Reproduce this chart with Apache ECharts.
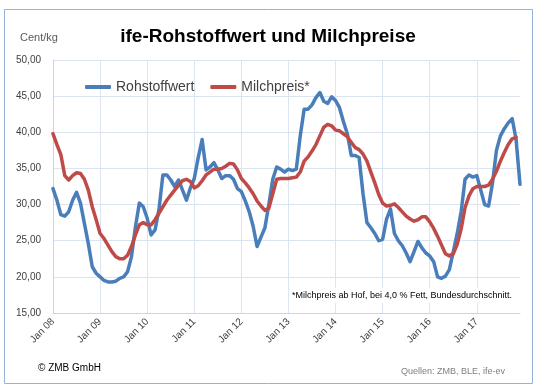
<!DOCTYPE html>
<html><head><meta charset="utf-8">
<script src="https://cdn.jsdelivr.net/npm/echarts@6/dist/echarts.min.js"></script>
<style>html,body{margin:0;padding:0;background:#fff}#c{width:540px;height:390px}</style>
</head><body><div id="c"></div>
<script>
var years = ['08','09','10','11','12','13','14','15','16','17'];
var monthNames = ['Jan','Feb','Mrz','Apr','Mai','Jun','Jul','Aug','Sep','Okt','Nov','Dez'];
var yTicks = [15, 20, 25, 30, 35, 40, 45, 50];
var rohstoffwert = [
32.2,30.6,28.6,28.4,29.0,30.6,31.7,30.2,27.4,24.6,21.4,20.5,
20.0,19.5,19.3,19.3,19.4,19.8,20.0,20.7,22.8,26.9,30.2,29.7,
28.1,25.8,26.5,29.3,34.1,34.1,33.4,32.5,33.4,32.0,30.6,32.3,
33.6,36.5,39.0,34.8,35.2,35.8,34.8,33.6,34.0,34.0,33.5,32.2,
31.8,30.5,29.0,27.0,24.2,25.5,26.8,30.0,33.5,35.2,34.9,34.5,
34.9,34.7,34.9,39.5,43.2,43.2,43.8,44.8,45.5,44.3,44.0,44.9,
44.4,43.4,41.5,39.8,36.8,36.8,36.5,31.5,27.5,26.8,26.0,25.0,
25.2,28.0,29.4,26.0,25.0,24.3,23.3,22.1,23.5,24.9,24.0,23.3,
22.9,22.1,20.0,19.8,20.1,21.0,23.5,26.0,29.0,33.5,34.1,33.8,
34.0,32.0,30.0,29.8,33.0,37.5,39.5,40.5,41.3,41.9,39.0,32.8];
var milchpreis = [
39.8,38.3,36.9,34.0,33.4,34.0,34.4,34.3,33.5,32.0,29.7,27.9,
26.0,25.3,24.4,23.5,22.8,22.5,22.5,23.0,24.2,25.8,27.2,27.5,
27.2,27.2,27.9,28.8,29.7,30.6,31.3,32.0,32.7,33.3,33.5,33.2,
32.3,32.6,33.3,34.1,34.5,34.9,34.9,35.0,35.3,35.7,35.6,34.8,
33.6,33.0,32.3,31.5,30.5,29.8,29.2,29.5,31.5,33.5,33.6,33.6,
33.6,33.7,33.8,34.5,36.0,36.6,37.4,38.3,39.5,40.7,41.1,40.9,
40.3,40.2,39.8,39.4,38.6,37.9,37.6,37.0,36.0,34.5,33.0,31.4,
30.2,29.8,29.9,30.1,29.6,29.0,28.4,28.0,27.7,27.9,28.3,28.3,
27.6,26.7,25.6,24.4,23.2,22.9,23.2,24.5,26.6,29.6,31.2,32.2,
32.5,32.5,32.5,32.7,33.5,34.6,36.0,37.2,38.3,39.1,39.3];

var categories = [];
years.forEach(function (y) { monthNames.forEach(function (m) { categories.push(m + ' ' + y); }); });

var blue = '#4a7ebb', red = '#be4b48';
var chart = echarts.init(document.getElementById('c'), null, {renderer: 'canvas'});
chart.setOption({
  animation: false,
  backgroundColor: '#ffffff',
  grid: {left: 53, right: 20, top: 60, bottom: 77},
  title: {
    text: 'ife-Rohstoffwert und Milchpreise',
    left: 263, top: 22, textAlign: 'center',
    textStyle: {fontFamily: 'Liberation Sans', fontWeight: 'bold', fontSize: 19, color: '#000'}
  },
  legend: {
    left: 80, top: 75, itemGap: 16, itemWidth: 26, itemHeight: 4,
    icon: 'roundRect',
    textStyle: {fontFamily: 'Liberation Sans', fontSize: 14, color: '#404040'},
    data: ['Rohstoffwert', 'Milchpreis*']
  },
  xAxis: {
    type: 'category', data: categories, boundaryGap: false,
    axisLine: {lineStyle: {color: '#c9d6e8'}},
    axisTick: {show: false},
    axisLabel: {interval: 11, rotate: 45, fontFamily: 'Liberation Sans', fontSize: 10, color: '#404040', margin: 7},
    splitLine: {show: true, interval: 11, lineStyle: {color: '#dbe5f1', width: 1}}
  },
  yAxis: {
    type: 'value', min: yTicks[0], max: yTicks[yTicks.length - 1], interval: 5,
    axisLine: {show: true, lineStyle: {color: '#c9d6e8'}},
    axisTick: {show: false},
    axisLabel: {fontFamily: 'Liberation Sans', fontSize: 10, color: '#404040', margin: 12,
      formatter: function (v) { return v.toFixed(2).replace('.', ','); }},
    splitLine: {lineStyle: {color: '#dbe5f1', width: 1}}
  },
  series: [
    {name: 'Rohstoffwert', type: 'line', data: rohstoffwert, showSymbol: false, color: blue,
     lineStyle: {width: 3.5, color: blue, cap: 'round', join: 'round'}},
    {name: 'Milchpreis*', type: 'line', data: milchpreis, showSymbol: false, color: red,
     lineStyle: {width: 3.5, color: red, cap: 'round', join: 'round'}}
  ],
  graphic: [
    {type: 'rect', shape: {x: 4.5, y: 9.5, width: 528, height: 374}, style: {fill: null, stroke: '#95b3d7', lineWidth: 1}, z: 100},
    {type: 'text', left: 20, top: 32, style: {text: 'Cent/kg', font: '11px "Liberation Sans"', fill: '#595959'}},
    {type: 'rect', shape: {x: 289, y: 288, width: 224, height: 15}, style: {fill: '#ffffff'}, z: 50},
    {type: 'text', left: 292, top: 291, z: 51, style: {text: '*Milchpreis ab Hof, bei 4,0 % Fett, Bundesdurchschnitt.', font: '9px "Liberation Sans"', fill: '#000'}},
    {type: 'text', left: 38, top: 363, style: {text: '© ZMB GmbH', font: '10px "Liberation Sans"', fill: '#000'}},
    {type: 'text', left: 401, top: 367, style: {text: 'Quellen: ZMB, BLE, ife-ev', font: '9px "Liberation Sans"', fill: '#808080'}}
  ]
});
</script></body></html>
